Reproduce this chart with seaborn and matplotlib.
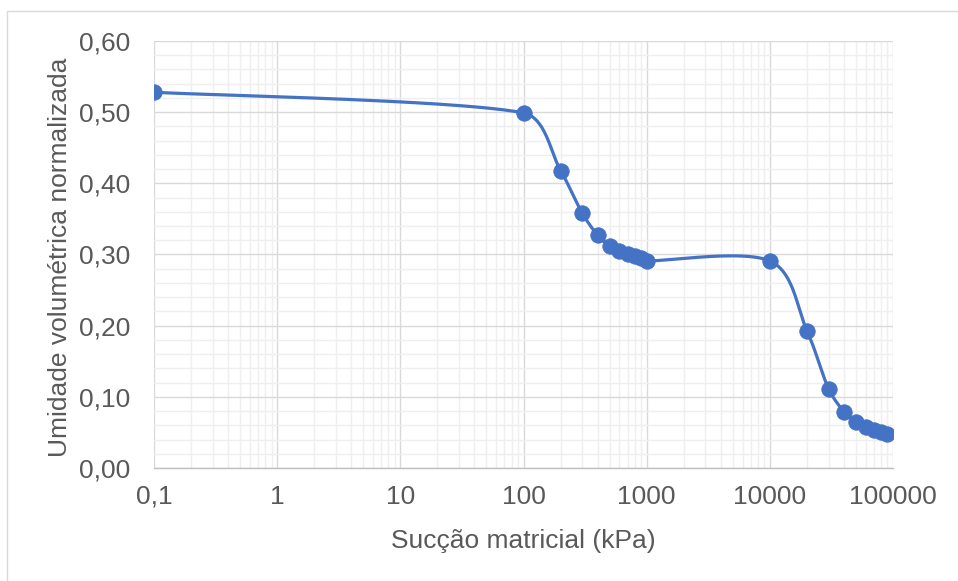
import numpy as np
import pandas as pd
import matplotlib
matplotlib.use("Agg")
import matplotlib.pyplot as plt
import seaborn as sns
from matplotlib.ticker import FixedLocator, NullFormatter, FuncFormatter
from matplotlib.patches import Rectangle

# ---- data ----
succao = [0.1, 100, 200, 300, 400, 500, 600, 700, 800, 900, 1000,
          10000, 20000, 30000, 40000, 50000, 60000, 70000, 80000, 90000]
umidade = [0.528, 0.499, 0.418, 0.358, 0.327, 0.312, 0.305, 0.301, 0.298, 0.295, 0.291,
           0.291, 0.193, 0.111, 0.079, 0.064, 0.058, 0.054, 0.050, 0.048]
x_ticks = [0.1, 1, 10, 100, 1000, 10000, 100000]
x_tick_labels = ["0,1", "1", "10", "100", "1000", "10000", "100000"]
y_ticks = [0.0, 0.1, 0.2, 0.3, 0.4, 0.5, 0.6]
x_label = "Sucção matricial (kPa)"
y_label = "Umidade volumétrica normalizada"

df = pd.DataFrame({"x": succao, "y": umidade})

# ---- smoothed curve (Catmull-Rom Bezier, control lengths clamped per segment) ----
def smooth(xs, ys, sx=123.2, sy=711.7, n=50):
    P = np.column_stack([np.log10(xs) * sx, np.array(ys) * sy])
    m = len(P)
    T = []
    for i in range(m):
        a = P[i - 1] if i > 0 else P[i]
        b = P[i + 1] if i + 1 < m else P[i]
        T.append((b - a) / 6.0)
    out = []
    for i in range(m - 1):
        p1, p2 = P[i], P[i + 1]
        L = np.linalg.norm(p2 - p1) / 3.0
        t1, t2 = T[i], T[i + 1]
        n1, n2 = np.linalg.norm(t1), np.linalg.norm(t2)
        if n1 > L:
            t1 = t1 * L / n1
        if n2 > L:
            t2 = t2 * L / n2
        c1 = p1 + t1
        c2 = p2 - t2
        t = np.linspace(0, 1, n)[:, None]
        seg = ((1 - t) ** 3) * p1 + 3 * ((1 - t) ** 2) * t * c1 + 3 * (1 - t) * t ** 2 * c2 + t ** 3 * p2
        out.append(seg if i == 0 else seg[1:])
    S = np.vstack(out)
    return 10 ** (S[:, 0] / sx), S[:, 1] / sy

sx_, sy_ = smooth(succao, umidade)
curve = pd.DataFrame({"x": sx_, "y": sy_})

# ---- figure ----
sns.set_theme(style="white")
plt.rcParams["font.family"] = ["Liberation Sans", "DejaVu Sans"]

W, H = 958, 581
fig = plt.figure(figsize=(W / 100, H / 100), dpi=100)
ax = fig.add_axes([154 / W, 1 - 468 / H, (893 - 154) / W, (468 - 41) / H])

color = "#4472C4"
text_c = "#595959"

sns.lineplot(data=curve, x="x", y="y", ax=ax, sort=False, color=color, lw=2.3,
             estimator=None, zorder=3)
sns.scatterplot(data=df, x="x", y="y", ax=ax, color=color, s=125, edgecolor=color,
                linewidth=0.5, zorder=4)

ax.set_xscale("log")
ax.set_xlim(0.1, 100000)
ax.set_ylim(0, 0.6)

ax.set_xticks(x_ticks)
ax.set_xticklabels(x_tick_labels)
minors = [k * 10.0 ** e for e in range(-1, 5) for k in range(2, 10)]
ax.xaxis.set_minor_locator(FixedLocator(minors))
ax.xaxis.set_minor_formatter(NullFormatter())

ax.set_yticks(y_ticks)
ax.yaxis.set_major_formatter(FuncFormatter(lambda v, p: f"{v:.2f}".replace(".", ",")))
ax.yaxis.set_minor_locator(FixedLocator(np.arange(0, 0.601, 0.02)))

ax.grid(True, which="major", color="#D9D9D9", lw=1.0)
ax.grid(True, which="minor", color="#EFEFEF", lw=1.0)
ax.set_axisbelow(True)

for s in ["top", "right", "left"]:
    ax.spines[s].set_visible(False)
ax.spines["bottom"].set_color("#BFBFBF")
ax.spines["bottom"].set_linewidth(1.0)

ax.tick_params(axis="both", which="both", length=0, labelsize=19, labelcolor=text_c)
ax.tick_params(axis="y", pad=17)
ax.tick_params(axis="x", pad=12)

ax.set_xlabel(x_label, fontsize=19, color=text_c, va="center")
ax.set_ylabel(y_label, fontsize=19, color=text_c, va="center")
ax.xaxis.set_label_coords(0.5, (468 - 541) / 427)
ax.yaxis.set_label_coords((60 - 154) / 739, (468 - 257) / 427)

# chart area border
fig.patches.append(Rectangle((7 / W, -0.05), 1.0, 1 - 11 / H + 0.05, transform=fig.transFigure,
                             fill=False, edgecolor="#D9D9D9", lw=1.0))

fig.savefig("out.png", dpi=100)
